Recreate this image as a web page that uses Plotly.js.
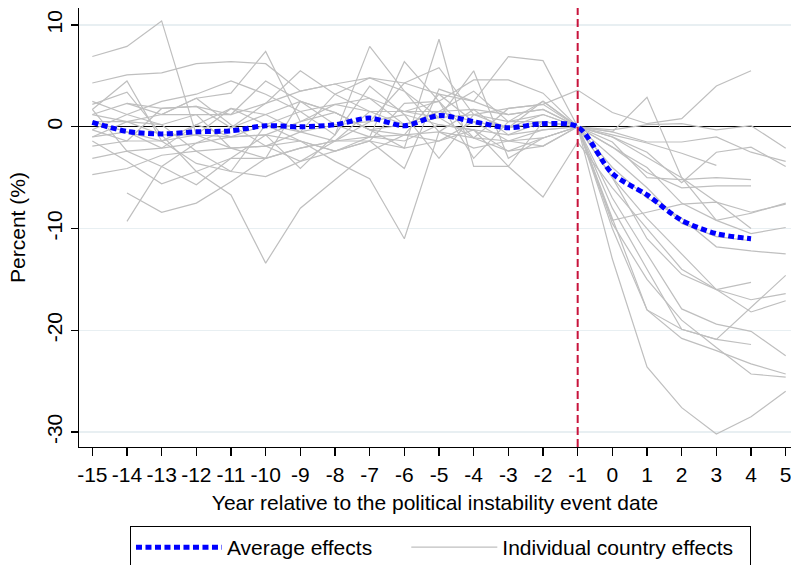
<!DOCTYPE html>
<html>
<head>
<meta charset="utf-8">
<script src="https://cdn.plot.ly/plotly-3.0.1.min.js"></script>
<style>
  html, body { margin: 0; padding: 0; background: #ffffff; }
  #chart { width: 791px; height: 565px; }
</style>
</head>
<body>
<div id="chart"></div>
<script>
// ---- Data ----
const years = [-15,-14,-13,-12,-11,-10,-9,-8,-7,-6,-5,-4,-3,-2,-1,0,1,2,3,4,5];
const xTickLabels = ["-15","-14","-13","-12","-11","-10","-9","-8","-7","-6","-5","-4","-3","-2","-1","0","1","2","3","4","5"];
const yTickValues = [-30,-20,-10,0,10];
const yTickLabels = ["-30","-20","-10","0","10"];
const eventYear = -1;
const seriesNames = ["Average effects", "Individual country effects"];

const averageEffects = [0.43,-0.46,-0.7,-0.5,-0.4,0.1,0.0,0.2,0.85,0.1,1.1,0.5,-0.1,0.3,0,-4.6,-6.7,-9.2,-10.5,-11.0,null];

const country01 = [6.9,7.9,10.4,-0.8,-1.0,0.2,1.5,2.2,2.8,1.5,0.9,1.2,1.8,2.2,3.6,1.4,0.3,0.8,4.0,5.5,null];
const country02 = [4.3,5.1,5.3,6.2,6.4,6.2,3.5,4.2,4.8,4.3,3.2,2.5,6.9,6.5,0,-0.5,2.9,-5.0,-9.2,-8.5,-7.5];
const country03 = [-4.7,-4.1,-2.8,-2.4,-2.1,-1.9,-0.5,0.2,0.5,1.2,0.2,-0.3,-0.8,-0.3,0,-0.3,0.2,0.3,-0.3,0.1,-2.1];
const country04 = [null,-9.3,-3.9,-1.6,-0.1,1.2,2.5,1.4,-0.3,0.2,1.5,1.7,1.2,1.7,0,-0.5,-1.5,-1.5,-1.0,-2.5,-3.4];
const country05 = [null,-6.5,-8.4,-7.5,-5.4,-3.1,-2.1,-1.4,-1.0,-0.8,-0.5,-1.1,-1.4,-1.1,0,-1.0,-2.5,-5.5,-2.5,-2.0,-3.9];
const country06 = [1.7,4.5,-1.4,-3.6,-4.4,-4.9,-3.4,-2.4,-1.4,2.3,2.5,-1.1,-2.4,-1.9,0,-1.5,-5.0,-5.2,-5.0,-5.2,null];
const country07 = [2.2,3.4,-0.8,-4.4,-6.7,-13.4,-8.0,-5.2,-2.4,-0.8,-1.4,0.5,-0.1,0.5,0,-2.0,-4.5,-6.0,-5.8,-5.8,null];
const country08 = [0.5,-0.5,-2.1,0.2,1.8,0.2,-1.4,-3.4,-5.1,-11.0,-0.5,-2.1,-1.4,-0.3,0,-3.0,-6.0,-9.5,-10.8,-11.2,null];
const country09 = [-1.0,0.5,1.2,2.8,3.3,7.4,0.5,2.2,1.5,0.2,1.5,3.5,0.5,1.2,0,-4.0,-7.0,-9.0,-11.8,-12.2,-12.5];
const country10 = [1.2,2.3,1.8,2.0,1.2,2.3,5.5,3.2,1.5,1.5,2.5,4.6,4.6,3.3,0,-2.0,-4.0,-7.5,-9.2,-10.5,-9.9];
const country11 = [-3.1,-2.4,-3.9,-5.7,-3.1,-0.8,-4.1,-0.8,7.9,3.5,0.9,5.5,-3.1,-1.1,0,-5.0,-9.0,-12.5,-16.0,-17.0,-16.4];
const country12 = [-1.4,-3.4,-5.6,-4.4,-3.1,-3.1,-2.1,-1.4,-1.4,-2.1,8.6,-3.9,-3.9,-6.9,-1.5,-6.0,-10.0,-14.0,-16.0,-18.2,-17.1];
const country13 = [0.5,0.5,0.2,1.2,1.2,4.5,2.5,0.2,-1.0,6.4,2.5,-3.1,0.5,0.5,0,-7.0,-12.5,-17.9,-19.4,-20.1,-22.5];
const country14 = [-0.3,1.2,2.5,3.2,4.5,3.2,1.5,-0.8,4.0,1.2,-3.1,1.2,-0.1,2.5,0,-8.0,-14.0,-19.9,-20.9,-17.8,-14.6];
const country15 = [-1.9,-1.4,-1.4,-0.8,-2.1,-1.9,-1.4,-2.4,-1.4,-4.1,3.7,2.5,1.2,1.7,0,-9.0,-18.0,-20.8,-22.0,-23.3,-24.3];
const country16 = [1.7,-2.4,-2.1,-1.6,-1.0,-0.8,0.5,1.4,-0.3,-0.8,3.2,0.5,-1.4,-1.9,0,-10.0,-18.0,-19.9,-20.9,-21.4,null];
const country17 = [-0.3,-1.4,1.8,2.0,-0.1,2.3,3.5,4.2,2.8,0.2,0.9,-1.1,1.8,2.2,0,-13.0,-23.6,-27.6,-30.2,-28.5,-26.0];
const country18 = [1.2,0.5,-0.8,-0.8,1.8,1.2,-0.5,3.2,4.8,3.5,-0.5,1.7,-0.8,0.5,0,-9.5,-15.0,-19.0,-21.7,-24.3,-24.6];
const country19 = [-1.0,-0.5,-1.4,0.2,-1.0,-0.8,-1.4,-2.4,-1.0,-1.4,0.2,-0.3,-2.4,-1.1,0,-9.2,-8.4,-7.6,-7.4,-8.4,-7.6];
const country20 = [null,null,1.2,2.8,0.2,-1.9,-3.4,-1.4,1.5,1.5,1.5,0.5,-0.1,1.2,0,-1.0,-3.0,-5.0,-7.4,-10.0,null];
const country21 = [null,2.3,1.2,1.2,-2.1,-3.1,2.5,1.4,-0.3,-2.1,-1.4,-0.3,-3.9,0.5,0,-0.8,-1.6,-2.6,-3.8,null,null];
const country22 = [2.5,1.2,0.2,-2.4,-4.4,0.2,-0.5,-1.4,0.5,4.3,5.8,1.2,0.5,2.5,0,-5.0,-11.0,-14.5,-16.0,-15.3,null];

const countrySeries = [country01,country02,country03,country04,country05,country06,country07,country08,
  country09,country10,country11,country12,country13,country14,country15,country16,country17,country18,
  country19,country20,country21,country22];

const FONT = '"Liberation Sans", Arial, Helvetica, sans-serif';
const NBSP = '\u00A0';

const traces = countrySeries.map((vals, i) => ({
  type: 'scatter', mode: 'lines', x: years, y: vals,
  name: seriesNames[1] + NBSP.repeat(2),
  legendgroup: 'countries',
  showlegend: i === 0,
  legendrank: 2,
  connectgaps: false,
  line: { color: '#bfbfbf', width: 1.2 },
  hoverinfo: 'skip'
}));

traces.push({
  type: 'scatter', mode: 'lines', x: years, y: averageEffects,
  name: seriesNames[0] + NBSP.repeat(5),
  legendrank: 1,
  line: { color: '#0000ff', width: 5, dash: '6px,3.5px', shape: 'spline', smoothing: 0.8 },
  hoverinfo: 'skip'
});

const layout = {
  width: 791, height: 565,
  margin: { l: 79, r: 0, t: 8, b: 118, autoexpand: false },
  paper_bgcolor: '#ffffff', plot_bgcolor: '#ffffff',
  font: { family: FONT, color: '#000000', size: 21 },
  showlegend: true,
  xaxis: {
    range: [-15.384, 5.153],
    tickmode: 'array', tickvals: years, ticktext: xTickLabels,
    ticklabeloverflow: 'allow',
    showline: true, linecolor: '#000000', linewidth: 1.3,
    ticks: 'outside', ticklen: 8, tickwidth: 1.3, tickcolor: '#000000',
    showgrid: false, zeroline: false,
    tickfont: { family: FONT, size: 21, color: '#000000' },
    title: { text: 'Year relative to the political instability event date', font: { family: FONT, size: 21, color: '#000000' }, standoff: 10 }
  },
  yaxis: {
    range: [-31.47, 11.67],
    tickmode: 'array', tickvals: yTickValues, ticktext: yTickLabels, tickangle: -90,
    showline: true, linecolor: '#000000', linewidth: 1.3,
    ticks: 'outside', ticklen: 7, tickwidth: 1.3, tickcolor: '#000000',
    showgrid: true, gridcolor: '#e8eff2', gridwidth: 1.3,
    zeroline: true, zerolinecolor: '#000000', zerolinewidth: 1.3,
    tickfont: { family: FONT, size: 21, color: '#000000' },
    title: { text: 'Percent (%)', font: { family: FONT, size: 21, color: '#000000' }, standoff: 12 }
  },
  legend: {
    orientation: 'h', x: 0.0716, xanchor: 'left', y: -0.18, yanchor: 'top',
    bordercolor: '#000000', borderwidth: 1, bgcolor: '#ffffff',
    font: { family: FONT, size: 21, color: '#000000' },
    itemwidth: 86,
    traceorder: 'normal'
  },
  shapes: [{
    type: 'line', xref: 'x', yref: 'paper', x0: eventYear, x1: eventYear, y0: 0, y1: 1,
    line: { color: '#c8143c', width: 2, dash: '8px,4px' }, layer: 'above'
  }]
};

Plotly.newPlot('chart', traces, layout, { staticPlot: true, displayModeBar: false });
</script>
</body>
</html>
